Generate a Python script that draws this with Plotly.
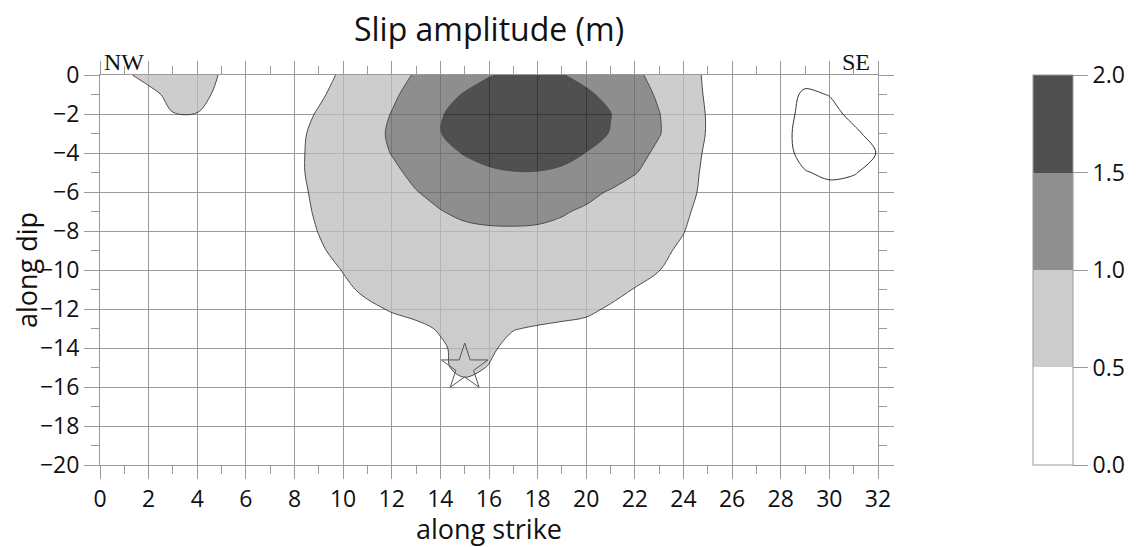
import plotly.graph_objects as go

# grid nodes (km)
strike_km = list(range(0, 33))
dip_km = [0, -1, -2, -3, -4, -5, -6, -7, -8, -9, -10,
          -11, -12, -13, -14, -15, -16, -17, -18, -19, -20]

# slip (m) at each grid node, one row per dip value
slip_m = [
    [0.25, 0.44, 0.62, 0.74, 0.68, 0.47, 0.25, 0.12, 0.22, 0.39, 0.55, 0.71, 0.87, 1.03, 1.18, 1.32, 1.47,
     1.58, 1.60, 1.52, 1.37, 1.22, 1.07, 0.88, 0.66, 0.44, 0.25, 0.10, 0.20, 0.38, 0.38, 0.25, 0.15],
    [0.10, 0.22, 0.40, 0.60, 0.63, 0.40, 0.22, 0.15, 0.27, 0.45, 0.62, 0.79, 0.95, 1.11, 1.35, 1.53, 1.70,
     1.80, 1.82, 1.75, 1.57, 1.38, 1.16, 0.95, 0.70, 0.45, 0.22, 0.08, 0.35, 0.55, 0.49, 0.38, 0.25],
    [0.05, 0.15, 0.30, 0.49, 0.49, 0.30, 0.20, 0.20, 0.37, 0.53, 0.70, 0.86, 1.01, 1.25, 1.47, 1.65, 1.80,
     1.90, 1.93, 1.87, 1.73, 1.51, 1.26, 1.01, 0.75, 0.47, 0.24, 0.10, 0.33, 0.62, 0.60, 0.42, 0.30],
    [0.03, 0.10, 0.20, 0.30, 0.30, 0.22, 0.18, 0.25, 0.42, 0.58, 0.74, 0.89, 1.04, 1.28, 1.49, 1.66, 1.80,
     1.90, 1.92, 1.84, 1.66, 1.48, 1.25, 1.02, 0.76, 0.47, 0.24, 0.10, 0.36, 0.66, 0.68, 0.56, 0.38],
    [0.02, 0.06, 0.12, 0.18, 0.20, 0.18, 0.18, 0.27, 0.44, 0.58, 0.72, 0.87, 1.01, 1.17, 1.35, 1.53, 1.68,
     1.76, 1.75, 1.65, 1.49, 1.31, 1.13, 0.92, 0.66, 0.45, 0.24, 0.12, 0.35, 0.62, 0.66, 0.60, 0.49],
    [0.02, 0.04, 0.08, 0.12, 0.14, 0.15, 0.18, 0.27, 0.44, 0.58, 0.70, 0.82, 0.94, 1.07, 1.20, 1.32, 1.42,
     1.48, 1.48, 1.42, 1.31, 1.18, 1.02, 0.84, 0.63, 0.43, 0.24, 0.12, 0.30, 0.48, 0.56, 0.52, 0.40],
    [0.01, 0.02, 0.05, 0.08, 0.10, 0.12, 0.16, 0.25, 0.42, 0.56, 0.68, 0.79, 0.90, 0.99, 1.08, 1.15, 1.20,
     1.23, 1.22, 1.17, 1.09, 0.97, 0.84, 0.72, 0.60, 0.42, 0.23, 0.12, 0.22, 0.35, 0.40, 0.38, 0.30],
    [0.01, 0.02, 0.03, 0.05, 0.07, 0.09, 0.13, 0.22, 0.40, 0.54, 0.66, 0.77, 0.86, 0.94, 0.99, 1.06, 1.10,
     1.12, 1.10, 1.03, 0.95, 0.86, 0.76, 0.65, 0.55, 0.39, 0.22, 0.12, 0.15, 0.22, 0.25, 0.24, 0.20],
    [0.00, 0.01, 0.02, 0.04, 0.05, 0.07, 0.11, 0.20, 0.35, 0.51, 0.63, 0.73, 0.81, 0.87, 0.91, 0.94, 0.96,
     0.96, 0.95, 0.92, 0.87, 0.80, 0.70, 0.60, 0.51, 0.34, 0.20, 0.10, 0.10, 0.14, 0.16, 0.15, 0.13],
    [0.00, 0.01, 0.02, 0.03, 0.04, 0.06, 0.09, 0.17, 0.30, 0.46, 0.59, 0.68, 0.76, 0.82, 0.86, 0.88, 0.89,
     0.89, 0.88, 0.85, 0.80, 0.73, 0.65, 0.56, 0.45, 0.30, 0.18, 0.09, 0.07, 0.09, 0.10, 0.10, 0.09],
    [0.00, 0.00, 0.01, 0.02, 0.03, 0.05, 0.08, 0.14, 0.26, 0.40, 0.51, 0.61, 0.69, 0.75, 0.79, 0.81, 0.82,
     0.82, 0.81, 0.78, 0.73, 0.66, 0.58, 0.505, 0.40, 0.27, 0.16, 0.08, 0.05, 0.06, 0.07, 0.07, 0.06],
    [0.00, 0.00, 0.01, 0.02, 0.03, 0.04, 0.06, 0.11, 0.20, 0.31, 0.45, 0.55, 0.62, 0.67, 0.71, 0.73, 0.74,
     0.74, 0.72, 0.69, 0.64, 0.58, 0.49, 0.40, 0.30, 0.20, 0.12, 0.06, 0.04, 0.04, 0.05, 0.05, 0.04],
    [0.00, 0.00, 0.00, 0.01, 0.02, 0.03, 0.05, 0.10, 0.17, 0.27, 0.37, 0.45, 0.52, 0.57, 0.61, 0.64, 0.65,
     0.64, 0.60, 0.57, 0.55, 0.47, 0.40, 0.32, 0.24, 0.16, 0.10, 0.05, 0.03, 0.03, 0.03, 0.03, 0.03],
    [0.00, 0.00, 0.00, 0.00, 0.01, 0.02, 0.04, 0.07, 0.13, 0.20, 0.28, 0.35, 0.41, 0.45, 0.52, 0.58, 0.57,
     0.51, 0.48, 0.46, 0.43, 0.36, 0.29, 0.23, 0.17, 0.11, 0.07, 0.04, 0.02, 0.02, 0.02, 0.02, 0.02],
    [0.00, 0.00, 0.00, 0.00, 0.01, 0.01, 0.03, 0.05, 0.09, 0.14, 0.20, 0.26, 0.32, 0.38, 0.47, 0.57, 0.54,
     0.43, 0.40, 0.36, 0.31, 0.25, 0.20, 0.15, 0.11, 0.07, 0.05, 0.03, 0.01, 0.01, 0.01, 0.01, 0.01],
    [0.00, 0.00, 0.00, 0.00, 0.00, 0.01, 0.02, 0.04, 0.06, 0.10, 0.14, 0.19, 0.25, 0.33, 0.46, 0.56, 0.49,
     0.37, 0.30, 0.25, 0.21, 0.17, 0.13, 0.10, 0.07, 0.05, 0.03, 0.02, 0.01, 0.01, 0.01, 0.01, 0.01],
    [0.00, 0.00, 0.00, 0.00, 0.00, 0.01, 0.01, 0.03, 0.04, 0.07, 0.10, 0.14, 0.19, 0.28, 0.38, 0.44, 0.40,
     0.30, 0.23, 0.18, 0.15, 0.12, 0.09, 0.07, 0.05, 0.03, 0.02, 0.01, 0.00, 0.00, 0.00, 0.00, 0.00],
    [0.00, 0.00, 0.00, 0.00, 0.00, 0.00, 0.01, 0.02, 0.03, 0.05, 0.07, 0.10, 0.14, 0.20, 0.27, 0.30, 0.27,
     0.21, 0.16, 0.13, 0.10, 0.08, 0.06, 0.04, 0.03, 0.02, 0.01, 0.00, 0.00, 0.00, 0.00, 0.00, 0.00],
    [0.00, 0.00, 0.00, 0.00, 0.00, 0.00, 0.00, 0.01, 0.02, 0.03, 0.05, 0.07, 0.10, 0.14, 0.18, 0.20, 0.18,
     0.14, 0.11, 0.08, 0.06, 0.05, 0.04, 0.03, 0.02, 0.01, 0.00, 0.00, 0.00, 0.00, 0.00, 0.00, 0.00],
    [0.00, 0.00, 0.00, 0.00, 0.00, 0.00, 0.00, 0.00, 0.01, 0.02, 0.03, 0.04, 0.06, 0.09, 0.12, 0.13, 0.12,
     0.09, 0.07, 0.05, 0.04, 0.03, 0.02, 0.01, 0.01, 0.00, 0.00, 0.00, 0.00, 0.00, 0.00, 0.00, 0.00],
    [0.00, 0.00, 0.00, 0.00, 0.00, 0.00, 0.00, 0.00, 0.00, 0.01, 0.02, 0.03, 0.04, 0.05, 0.07, 0.08, 0.07,
     0.05, 0.04, 0.03, 0.02, 0.01, 0.01, 0.00, 0.00, 0.00, 0.00, 0.00, 0.00, 0.00, 0.00, 0.00, 0.00],
]

slip_levels = [0.0, 0.5, 1.0, 1.5, 2.0]
hypo_strike = [15.0]
hypo_dip = [-15.0]

# filled main patches use columns up to 27 km, SE patch is outline only
split = 28
main_x = strike_km[:split]
main_z = [row[:split] for row in slip_m]
se_x = strike_km[split - 1:]
se_z = [row[split - 1:] for row in slip_m]

grid_col = "#9a9a9a"
tick_font = dict(family="Open Sans", size=23, color="#111")
label_font = dict(family="Open Sans", size=27, color="#111")

fig = go.Figure()

# invisible trace only to carry the stepped colorbar
fig.add_trace(go.Heatmap(
    x=strike_km, y=dip_km, z=slip_m,
    zmin=slip_levels[0], zmax=slip_levels[-1],
    colorscale=[[0, "#ffffff"], [0.25, "#ffffff"], [0.25, "#cdcdcd"], [0.5, "#cdcdcd"],
                [0.5, "#8f8f8f"], [0.75, "#8f8f8f"], [0.75, "#505050"], [1, "#505050"]],
    opacity=0, hoverinfo="skip",
    colorbar=dict(
        x=1.199, xanchor="left", y=0.5, yanchor="middle", len=1, lenmode="fraction",
        thickness=40, xpad=0, ypad=0,
        outlinewidth=1, outlinecolor=grid_col,
        ticks="outside", ticklen=15, tickcolor=grid_col,
        tickvals=slip_levels, tickformat=".1f",
        tickfont=tick_font,
    ),
))

# semi transparent fill so the grid shows through like the original
fig.add_trace(go.Contour(
    x=main_x, y=dip_km, z=main_z,
    contours=dict(start=0.5, end=1.5, size=0.5, coloring="fill"),
    colorscale=[[0, "rgba(255,255,255,0)"], [1 / 3, "#bcbcbc"], [2 / 3, "#686868"], [1, "#161616"]],
    line=dict(color="#111111", width=1, smoothing=1.0),
    opacity=0.75, showscale=False, hoverinfo="skip",
))

fig.add_trace(go.Contour(
    x=se_x, y=dip_km, z=se_z,
    contours=dict(start=0.5, end=0.5, size=0.5, coloring="none"),
    line=dict(color="#333333", width=1, smoothing=1.0),
    showscale=False, hoverinfo="skip",
))

fig.add_trace(go.Scatter(
    x=hypo_strike, y=hypo_dip, mode="markers",
    marker=dict(symbol="star-open", size=35, color="#555555", line=dict(width=1)),
    hoverinfo="skip", showlegend=False,
))

# the page body adds an 8 px offset, so the figure is 8 px smaller on each side
fig.update_layout(
    width=1135, height=539,
    margin=dict(l=92, r=265, t=67, b=82),
    paper_bgcolor="white", plot_bgcolor="white",
    showlegend=False,
    title=dict(text="Slip amplitude (m)", x=0.5, xref="paper", xanchor="center",
               y=0.959, yanchor="middle",
               font=dict(family="Open Sans", size=32, color="#111")),
    xaxis=dict(
        range=[0, 32], tick0=0, dtick=2, automargin=False,
        showgrid=True, gridcolor=grid_col, gridwidth=1, zeroline=False,
        showline=True, linecolor=grid_col, linewidth=1, mirror="ticks",
        ticks="outside", ticklen=13, tickcolor=grid_col,
        minor=dict(dtick=1, ticks="outside", ticklen=8, tickcolor=grid_col, showgrid=False),
        tickfont=tick_font,
        title=dict(text="along strike", standoff=0, font=label_font),
    ),
    yaxis=dict(
        range=[-20, 0], tick0=0, dtick=2, automargin=False,
        showgrid=True, gridcolor=grid_col, gridwidth=1, zeroline=False,
        showline=True, linecolor=grid_col, linewidth=1, mirror="ticks",
        ticks="outside", ticklen=15, tickcolor=grid_col,
        minor=dict(dtick=1, ticks="outside", ticklen=8, tickcolor=grid_col, showgrid=False),
        tickfont=tick_font,
        title=dict(text="along dip", standoff=0, font=label_font),
    ),
    annotations=[
        dict(text="NW", x=0.1, y=1, xref="x", yref="paper", xanchor="left", yanchor="bottom",
             yshift=-2, showarrow=False,
             font=dict(family="Liberation Serif", size=24, color="#111")),
        dict(text="SE", x=31.75, y=1, xref="x", yref="paper", xanchor="right", yanchor="bottom",
             yshift=-2, showarrow=False,
             font=dict(family="Liberation Serif", size=24, color="#111")),
    ],
)

fig.write_html("out.html")
